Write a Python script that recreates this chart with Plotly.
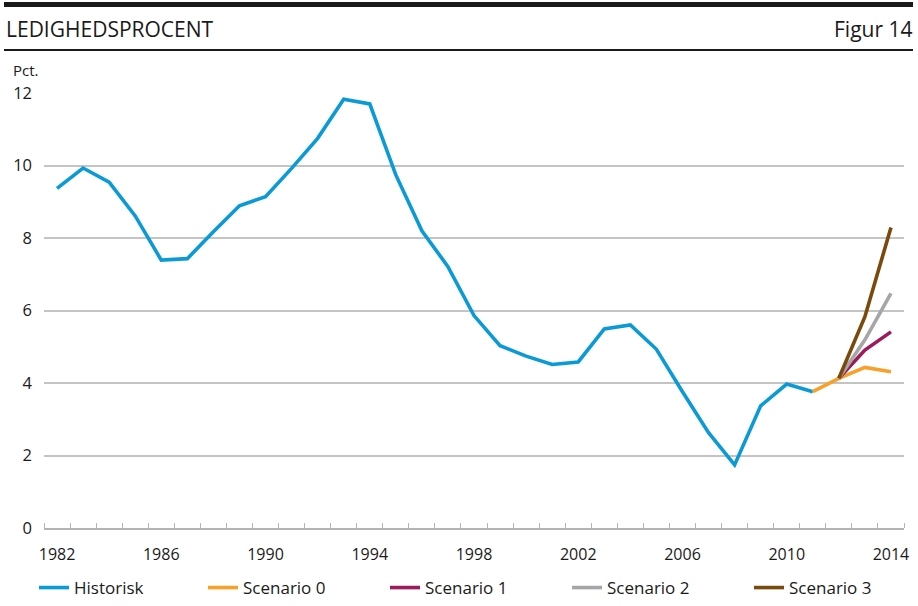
import plotly.graph_objects as go

# ---- data ----
hist_years = list(range(1982, 2012))
hist_values = [9.37, 9.93, 9.54, 8.61, 7.39, 7.43, 8.17, 8.89, 9.14, 9.92,
               10.75, 11.83, 11.70, 9.74, 8.20, 7.21, 5.86, 5.03, 4.74, 4.51,
               4.58, 5.49, 5.60, 4.93, 3.76, 2.63, 1.74, 3.37, 3.97, 3.76]
s0_years = [2011, 2012, 2013, 2014]
s0_values = [3.76, 4.13, 4.43, 4.31]
scen_years = [2012, 2013, 2014]
s1_values = [4.13, 4.91, 5.41]
s2_values = [4.13, 5.19, 6.47]
s3_values = [4.13, 5.83, 8.29]
x_tick_labels = [1982, 1986, 1990, 1994, 1998, 2002, 2006, 2010, 2014]
y_tick_values = [0, 2, 4, 6, 8, 10, 12]

FONT = "Open Sans"
TXT = "#1a1a1a"
W, H = 918, 606

series = [
    ("Historisk", hist_years, hist_values, "#0a9ad6", "legend", 34),
    ("Scenario 0", s0_years, s0_values, "#f7a12a", "legend2", 203),
    ("Scenario 1", scen_years, s1_values, "#9c1b5b", "legend3", 385),
    ("Scenario 2", scen_years, s2_values, "#a6a6a6", "legend4", 567),
    ("Scenario 3", scen_years, s3_values, "#7a4a0c", "legend5", 749),
]

fig = go.Figure()
legends = {}
for name, xs, ys, col, lg, lx in series:
    fig.add_trace(go.Scatter(x=xs, y=ys, mode="lines", name=name,
                             line=dict(color=col, width=3.6), legend=lg))
    legends[lg] = dict(xref="container", yref="container", x=lx / W,
                       y=1 - 588 / H, xanchor="left", yanchor="middle",
                       orientation="h", bgcolor="rgba(0,0,0,0)",
                       font=dict(family=FONT, size=17, color=TXT),
                       itemwidth=30)

fig.update_layout(
    width=W, height=H,
    margin=dict(l=44, r=14, t=93, b=78, autoexpand=False),
    paper_bgcolor="white", plot_bgcolor="white",
    font=dict(family=FONT, size=16, color=TXT),
    showlegend=True,
    **legends,
    xaxis=dict(range=[1981.5, 2014.5], tickmode="array", tickvals=x_tick_labels,
               ticktext=[str(v) for v in x_tick_labels], ticks="",
               showgrid=False, zeroline=False, showline=True,
               linecolor="#b3b3b3", linewidth=1.5, ticklabelstandoff=11,
               tickfont=dict(family=FONT, size=16, color=TXT),
               minor=dict(tickvals=[1981.5 + i for i in range(34)],
                          ticks="inside", ticklen=5, tickcolor="#b3b3b3",
                          tickwidth=1.2, showgrid=False)),
    yaxis=dict(range=[0, 12], tickmode="array", tickvals=y_tick_values,
               showgrid=True, gridcolor="#c4c4c4", gridwidth=1.5,
               zeroline=False, showline=False, ticks="",
               ticklabelstandoff=11,
               tickfont=dict(family=FONT, size=16.5, color=TXT)),
)


def py(p):
    return (528 - p) / 435


def px(p):
    return (p - 44) / 860


# top thick bar and thin rule under the header
fig.add_shape(type="rect", xref="x domain", yref="y domain",
              x0=px(4), x1=px(913), y0=py(7), y1=py(2),
              fillcolor="#1a1a1a", line_width=0)
fig.add_shape(type="rect", xref="x domain", yref="y domain",
              x0=px(4), x1=px(913), y0=py(51), y1=py(49),
              fillcolor="#1a1a1a", line_width=0)

fig.add_annotation(text="LEDIGHEDSPROCENT", xref="x domain", yref="y domain",
                   x=px(4), y=py(29), xanchor="left", yanchor="middle",
                   showarrow=False, font=dict(family=FONT, size=21, color=TXT))
fig.add_annotation(text="Figur 14", xref="x domain", yref="y domain",
                   x=px(914), y=py(29), xanchor="right", yanchor="middle",
                   showarrow=False, font=dict(family=FONT, size=21, color=TXT))
fig.add_annotation(text="Pct.", xref="x domain", yref="y domain",
                   x=px(11), y=py(70), xanchor="left", yanchor="middle",
                   showarrow=False, font=dict(family=FONT, size=15, color=TXT))

fig.write_html("out.html", config={"displayModeBar": False},
               post_script="document.body.style.margin='0';")
